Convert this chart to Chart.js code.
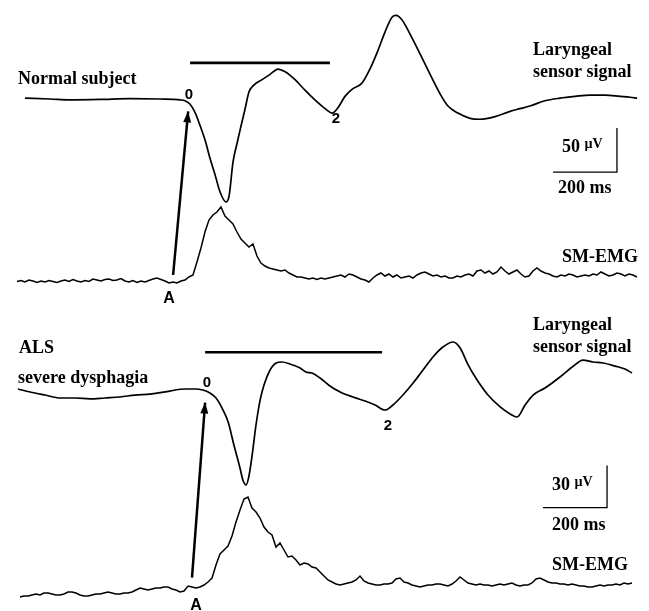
<!DOCTYPE html>
<html>
<head>
<meta charset="utf-8">
<script src="https://cdn.jsdelivr.net/npm/chart.js@4.4.1/dist/chart.umd.min.js"></script>
<style>
html,body{margin:0;padding:0;background:#fff;}
#wrap{width:649px;height:611px;}
</style>
</head>
<body>
<div id="wrap"><canvas id="swallow" width="649" height="611"></canvas></div>
<script>
// time in ms (200 ms calibration bar), amplitudes in µV relative to each trace's resting level
const W = 649, H = 611;
const MS_PER_PX = 200 / 64;
const EMG_STEP = 12.5;

// normal subject - laryngeal sensor signal
const normLarTime = [78,156,219,313,406,500,563,578,594,609,625,641,656,672,688,706,716,728,741,753,
  766,778,791,819,844,869,891,922,953,984,1016,1038,1056,1078,1100,1131,1156,1181,1203,1225,
  1238,1256,1281,1313,1344,1375,1400,1431,1469,1500,1547,1594,1625,1656,1703,1750,1797,1844,1891,1938,
  1969,1991];
const normLarUv = [1,0,-1,-0.5,0.5,0,-1,-2,-6,-15,-30,-47,-67,-86,-106,-117,-110,-72,-50,-31,
  -11,8,15,22,28,34,31,22,10,-1,-11,-16,-10,3,11,18,34,55,76,93,
  95,90,74,51,28,6,-8,-16,-22,-23,-20,-14,-11,-8,-2,1,3,4.5,4.5,3,
  2,1];

// normal subject - submental EMG (starts at 53 ms, one sample every 12.5 ms)
const normEmgStart = 53;
const normEmgUv = [
  -1.5,-0.5,-2,0,-1,-2.5,-1,-2,-0.5,-1.5,
  -2.5,-1,0,-1.5,0.5,-1,-2,-0.5,-1.5,1,
  0,-1,0.5,1,-0.5,0,1.5,-1,-2,-0.5,
  -2.5,-1,-2,-0.5,1,2,0.5,-1,-3,
  -2,-3,-1,0,3,5,18,32,48,60,
  65,68,73,64,60,56,48,41,37,33,
  36,24,17,14,12,11,10,9,10,7,
  5,3,3,2,1,2,0.5,2,1,2,
  3,4,5,3,6,5,3,1,0,-2,
  2,5,7,4,6,3,5,2,3,4,
  2,5,7,8,6,4,5,3,4,2,
  2,4,3,5,6,4,9,10,7,9,
  6,8,13,9,6,8,10,6,3,4,
  9,12,9,7,6,4,3,5,4,6,
  5,3,4,5,4,6,5,8,6,4,
  5,7,6,4,6,5,3];

// ALS, severe dysphagia - laryngeal sensor signal
const alsLarTime = [56,94,141,188,234,281,328,375,422,469,516,547,578,609,634,656,675,694,713,731,
  750,759,769,778,788,800,813,825,844,863,881,906,938,956,975,1000,1031,1063,1103,1141,
  1172,1203,1228,1259,1291,1322,1353,1384,1416,1438,1463,1491,1525,1563,1594,1616,1641,1666,1703,1750,
  1788,1822,1853,1884,1922,1953,1975];
const alsLarUv = [0.7,-1.4,-3.6,-5.7,-5.7,-6.4,-5.7,-5,-3.6,-2.9,-1.4,0,0.7,0.7,0,-2.1,-5.7,-12.9,-22.9,-39.3,
  -55.7,-64.3,-67.8,-61.4,-46.4,-25,-7.1,3.6,14.3,19.3,20,18.6,15.7,12.9,12.1,8.6,2.9,-1.4,-5,-7.9,
  -10.7,-14.3,-10.7,-3.6,5,14.3,23.6,30.7,34.3,30,17.9,7.1,-3.6,-12.1,-17.1,-19.3,-10.7,-3.6,1.4,9.3,
  16.4,21.4,20,19.3,17.1,15,12.1];

// ALS - submental EMG (starts at 62.5 ms, one sample every 12.5 ms)
const alsEmgStart = 62.5;
const alsEmgUv = [
  -7,-6,-6,-5,-4,-5,-3,-3,-4,-5,
  -5,-4,-2,-2,-3,-5,-6,-6,-5,-4,
  -4,-3,-2,-3,-4,-4,-3,-3,-2,0,
  2,1,0,1,2,2,3,3,1,0,
  -2,-1,4,3,2,3,5,8,12,25,
  36,40,44,54,68,80,91,93,82,78,
  72,63,58,55,43,47,40,33,34,30,
  25,27,26,23,22,18,14,10,
  8,6,5,6,7,8,10,14,9,7,
  6,5,5,6,6,7,11,12,8,7,
  5,4,3,4,5,5,6,6,5,4,
  6,9,13,10,7,6,5,6,5,5,
  4,5,6,5,6,7,5,4,5,5,
  7,11,12,10,8,7,7,6,6,5,
  6,5,4,4,3,3,4,5,4,5,
  5,6,5,7,6,7];

// swallow interval bars (0 -> 2), onset arrows (A -> 0), calibration bars
const normBarMs = [594, 1031], normBarUv = 41;
const alsBarMs = [641, 1194], alsBarUv = 27;
const normArrowMs = [541, 588], normArrowUv = [-200, -14];
const alsArrowMs = [600, 641], alsArrowUv = [-134, -9];
const normCalMs = [1728, 1928, 1928], normCalUv = [-83, -83, -33];
const alsCalMs = [1697, 1897, 1897], alsCalUv = [-84, -84, -54];

const pairs = (xs, ys) => xs.map((x, i) => ({x: x, y: Array.isArray(ys) ? ys[i] : ys}));
const stepped = (start, vals) => vals.map((v, i) => ({x: start + i * EMG_STEP, y: v}));

function bandAxis(basePx, uvPerPx) {
  return {type: 'linear', display: false, min: -(H - basePx) * uvPerPx, max: basePx * uvPerPx};
}

const SERIF = '"Liberation Serif", "Times New Roman", serif';
const SANS = '"Liberation Sans", Arial, sans-serif';
const labels = [
  {text: 'Normal subject', x: 18, y: 84, font: 'bold 18px ' + SERIF},
  {text: 'Laryngeal', x: 533, y: 55, font: 'bold 18px ' + SERIF},
  {text: 'sensor signal', x: 533, y: 77, font: 'bold 18px ' + SERIF},
  {text: '50', unit: 'µV', x: 562, y: 152, font: 'bold 18px ' + SERIF},
  {text: '200 ms', x: 558, y: 193, font: 'bold 18px ' + SERIF},
  {text: 'SM-EMG', x: 562, y: 262, font: 'bold 18px ' + SERIF},
  {text: '0', x: 189, y: 99, font: 'bold 15px ' + SANS, align: 'center'},
  {text: '2', x: 336, y: 123, font: 'bold 15px ' + SANS, align: 'center'},
  {text: 'A', x: 169, y: 303, font: 'bold 16px ' + SANS, align: 'center'},
  {text: 'ALS', x: 19, y: 353, font: 'bold 18px ' + SERIF},
  {text: 'severe dysphagia', x: 18, y: 383, font: 'bold 18px ' + SERIF},
  {text: 'Laryngeal', x: 533, y: 330, font: 'bold 18px ' + SERIF},
  {text: 'sensor signal', x: 533, y: 352, font: 'bold 18px ' + SERIF},
  {text: '0', x: 207, y: 387, font: 'bold 15px ' + SANS, align: 'center'},
  {text: '2', x: 388, y: 430, font: 'bold 15px ' + SANS, align: 'center'},
  {text: '30', unit: 'µV', x: 552, y: 490, font: 'bold 18px ' + SERIF},
  {text: '200 ms', x: 552, y: 530, font: 'bold 18px ' + SERIF},
  {text: 'SM-EMG', x: 552, y: 570, font: 'bold 18px ' + SERIF},
  {text: 'A', x: 196, y: 610, font: 'bold 16px ' + SANS, align: 'center'}
];

const annotate = {
  id: 'annotate',
  afterDatasetsDraw(chart) {
    const ctx = chart.ctx;
    ctx.save();
    ctx.fillStyle = '#000';
    chart.data.datasets.forEach((ds, i) => {
      if (!ds.arrow) return;
      const pts = chart.getDatasetMeta(i).data;
      const a = pts[pts.length - 2], b = pts[pts.length - 1];
      const ang = Math.atan2(b.y - a.y, b.x - a.x);
      const len = 11, half = 4;
      ctx.beginPath();
      ctx.moveTo(b.x, b.y);
      ctx.lineTo(b.x - len * Math.cos(ang) + half * Math.sin(ang), b.y - len * Math.sin(ang) - half * Math.cos(ang));
      ctx.lineTo(b.x - len * Math.cos(ang) - half * Math.sin(ang), b.y - len * Math.sin(ang) + half * Math.cos(ang));
      ctx.closePath();
      ctx.fill();
    });
    ctx.textBaseline = 'alphabetic';
    labels.forEach(l => {
      ctx.font = l.font;
      ctx.textAlign = l.align || 'left';
      ctx.fillText(l.text, l.x, l.y);
      if (l.unit) {
        const w = ctx.measureText(l.text + ' ').width;
        ctx.font = 'bold 14px ' + SERIF;
        ctx.textAlign = 'left';
        ctx.fillText(l.unit, l.x + w, l.y - 4);
      }
    });
    ctx.restore();
  }
};

const trace = {borderColor: '#000', borderWidth: 1.7, pointRadius: 0, fill: false, clip: false};

new Chart(document.getElementById('swallow').getContext('2d'), {
  type: 'line',
  data: {
    datasets: [
      {...trace, label: 'Normal laryngeal', yAxisID: 'yNL', data: pairs(normLarTime, normLarUv), cubicInterpolationMode: 'monotone'},
      {...trace, label: 'Normal SM-EMG', yAxisID: 'yNE', data: stepped(normEmgStart, normEmgUv), borderWidth: 1.5},
      {...trace, label: 'ALS laryngeal', yAxisID: 'yAL', data: pairs(alsLarTime, alsLarUv), cubicInterpolationMode: 'monotone'},
      {...trace, label: 'ALS SM-EMG', yAxisID: 'yAE', data: stepped(alsEmgStart, alsEmgUv), borderWidth: 1.5},
      {...trace, label: 'normal bar', yAxisID: 'yNL', data: pairs(normBarMs, normBarUv), borderWidth: 2.6},
      {...trace, label: 'ALS bar', yAxisID: 'yAL', data: pairs(alsBarMs, alsBarUv), borderWidth: 2.6},
      {...trace, label: 'normal arrow', yAxisID: 'yNL', data: pairs(normArrowMs, normArrowUv), borderWidth: 2.5, arrow: true},
      {...trace, label: 'ALS arrow', yAxisID: 'yAL', data: pairs(alsArrowMs, alsArrowUv), borderWidth: 2.5, arrow: true},
      {...trace, label: 'normal calibration', yAxisID: 'yNL', data: pairs(normCalMs, normCalUv), borderWidth: 1.3},
      {...trace, label: 'ALS calibration', yAxisID: 'yAL', data: pairs(alsCalMs, alsCalUv), borderWidth: 1.3}
    ]
  },
  options: {
    responsive: false,
    animation: false,
    devicePixelRatio: 1,
    events: [],
    layout: {padding: 0, autoPadding: false},
    scales: {
      x: {type: 'linear', display: false, min: 0, max: W * MS_PER_PX},
      yNL: bandAxis(99, 50 / 44),
      yNE: bandAxis(280, 1),
      yAL: bandAxis(390, 30 / 42),
      yAE: bandAxis(590, 1)
    },
    plugins: {legend: {display: false}, tooltip: {enabled: false}}
  },
  plugins: [annotate]
});
</script>
</body>
</html>
